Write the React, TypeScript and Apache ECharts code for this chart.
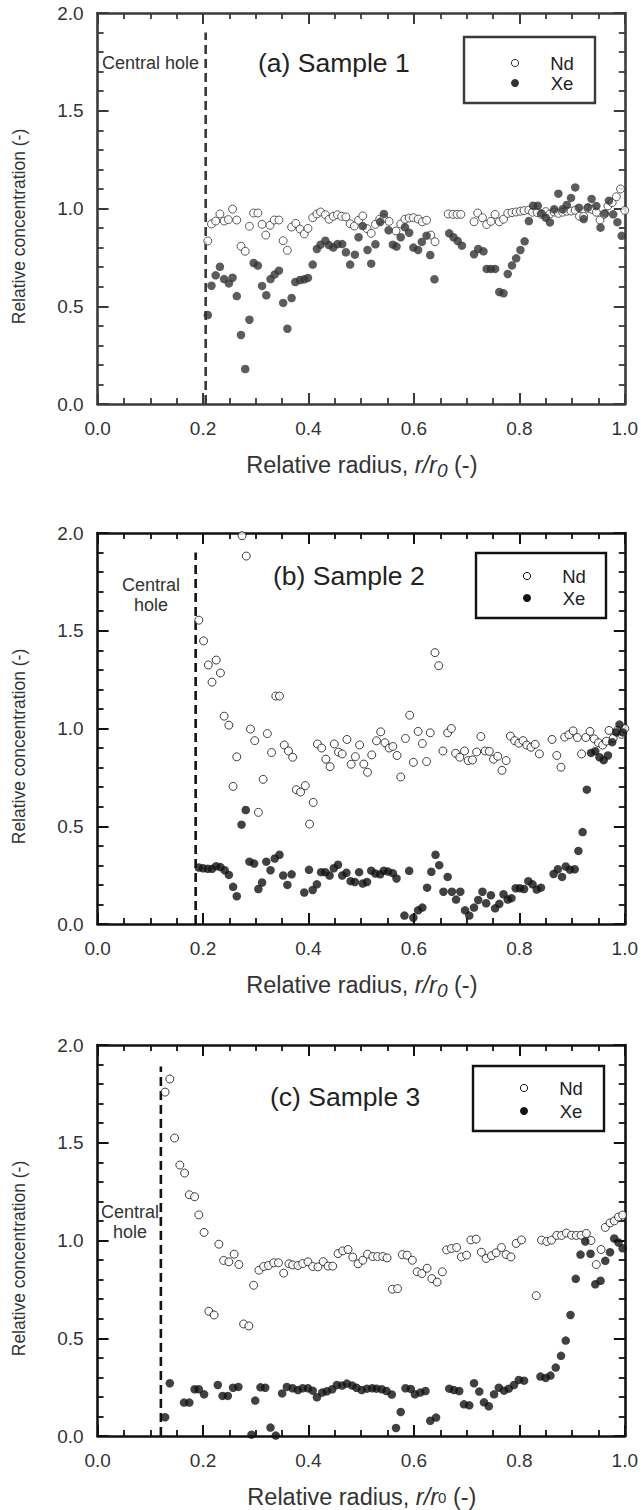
import React, { useEffect, useRef } from "react";
import * as echarts from "echarts";

// ---------- data ----------
const xTickStep = 0.2;
const yTickStep = 0.5;
const panelLabels = ["(a) Sample 1", "(b) Sample 2", "(c) Sample 3"];
const seriesNames = ["Nd", "Xe"];
const holeRadius = [0.205, 0.186, 0.12];
const holeTop = [1.9, 1.9, 1.89];

const ndA: number[][] = [
  [0.209,0.834],[0.216,0.921],[0.224,0.936],[0.232,0.972],[0.240,0.936],[0.248,0.943],[0.256,0.997],[0.264,0.941],[0.272,0.807],[0.280,0.781],
  [0.288,0.909],[0.296,0.977],[0.304,0.977],[0.312,0.919],[0.319,0.864],[0.327,0.914],[0.335,0.941],[0.344,0.941],[0.352,0.835],[0.360,0.786],
  [0.368,0.905],[0.376,0.924],[0.384,0.895],[0.392,0.870],[0.399,0.898],[0.408,0.953],[0.416,0.972],[0.423,0.982],[0.432,0.968],[0.439,0.945],
  [0.447,0.960],[0.455,0.968],[0.463,0.960],[0.471,0.957],[0.479,0.922],[0.487,0.910],[0.495,0.940],[0.503,0.962],[0.511,0.897],[0.519,0.873],
  [0.527,0.919],[0.535,0.945],[0.543,0.950],[0.553,0.934],[0.566,0.885],[0.575,0.921],[0.583,0.945],[0.591,0.951],[0.599,0.953],[0.608,0.946],
  [0.616,0.932],[0.624,0.940],[0.632,0.864],[0.640,0.830],[0.665,0.972],[0.674,0.970],[0.682,0.970],[0.689,0.970],[0.714,0.932],[0.721,0.977],
  [0.730,0.953],[0.738,0.918],[0.746,0.934],[0.754,0.970],[0.762,0.932],[0.770,0.945],[0.778,0.975],[0.786,0.979],[0.794,0.982],[0.802,0.986],
  [0.809,0.989],[0.818,0.992],[0.825,0.981],[0.834,0.979],[0.842,0.970],[0.850,0.984],[0.858,0.972],[0.866,0.982],[0.874,0.975],[0.882,0.981],
  [0.890,0.986],[0.898,0.987],[0.906,0.991],[0.914,0.960],[0.922,0.960],[0.930,1.001],[0.937,0.996],[0.946,0.981],[0.953,0.941],[0.961,0.970],
  [0.968,1.013],[0.976,1.03],[0.984,1.06],[0.992,1.10],[1.0,0.99]
];
const xeA: number[][] = [
  [0.209,0.455],[0.216,0.605],[0.224,0.658],[0.232,0.702],[0.240,0.639],[0.249,0.617],[0.256,0.646],[0.264,0.552],[0.272,0.353],[0.280,0.179],
  [0.288,0.431],[0.296,0.721],[0.304,0.708],[0.312,0.604],[0.320,0.556],[0.328,0.639],[0.336,0.663],[0.344,0.682],[0.352,0.517],[0.360,0.385],
  [0.368,0.542],[0.375,0.624],[0.384,0.634],[0.392,0.638],[0.399,0.645],[0.408,0.713],[0.416,0.793],[0.423,0.815],[0.432,0.835],[0.439,0.813],
  [0.447,0.800],[0.455,0.818],[0.464,0.818],[0.471,0.776],[0.479,0.713],[0.488,0.764],[0.495,0.853],[0.503,0.910],[0.512,0.788],[0.519,0.718],
  [0.527,0.817],[0.536,0.931],[0.543,0.972],[0.552,0.889],[0.560,0.815],[0.567,0.805],[0.575,0.853],[0.583,0.904],[0.591,0.876],[0.599,0.800],
  [0.608,0.788],[0.615,0.829],[0.624,0.861],[0.631,0.762],[0.639,0.638],[0.667,0.873],[0.675,0.853],[0.683,0.834],[0.691,0.810],[0.714,0.766],
  [0.722,0.793],[0.732,0.781],[0.738,0.691],[0.746,0.691],[0.754,0.691],[0.762,0.573],[0.770,0.566],[0.778,0.665],[0.786,0.709],[0.794,0.745],
  [0.802,0.788],[0.810,0.832],[0.818,0.936],[0.826,1.014],[0.835,1.014],[0.842,0.975],[0.850,0.953],[0.858,0.929],[0.866,0.996],[0.874,1.076],
  [0.882,0.996],[0.890,1.018],[0.898,1.054],[0.906,1.108],[0.913,1.004],[0.922,0.946],[0.930,1.006],[0.937,1.049],[0.946,1.013],[0.954,0.902],
  [0.962,0.975],[0.970,1.04],[0.978,0.97],[0.986,0.93],[0.994,0.86]
];
const ndB: number[][] = [
  [0.192,1.554],[0.201,1.448],[0.210,1.325],[0.217,1.237],[0.225,1.350],[0.233,1.284],[0.240,1.063],[0.249,1.017],[0.257,0.704],[0.264,0.855],
  [0.274,1.986],[0.282,1.882],[0.290,0.997],[0.298,0.938],[0.305,0.571],[0.314,0.740],[0.322,0.974],[0.330,0.877],[0.338,1.166],[0.345,1.166],
  [0.354,0.916],[0.362,0.885],[0.370,0.853],[0.377,0.687],[0.385,0.675],[0.394,0.708],[0.402,0.511],[0.409,0.622],[0.417,0.921],[0.425,0.900],
  [0.433,0.843],[0.441,0.805],[0.449,0.921],[0.457,0.879],[0.464,0.870],[0.473,0.944],[0.481,0.817],[0.489,0.856],[0.497,0.916],[0.505,0.818],
  [0.512,0.776],[0.520,0.865],[0.529,0.937],[0.537,0.983],[0.545,0.927],[0.553,0.900],[0.560,0.908],[0.568,0.862],[0.575,0.752],[0.584,0.949],
  [0.592,1.068],[0.599,0.827],[0.608,0.985],[0.616,0.923],[0.624,0.831],[0.631,0.978],[0.640,1.388],[0.647,1.321],[0.655,0.885],[0.664,0.978],
  [0.671,1.000],[0.679,0.873],[0.687,0.853],[0.696,0.885],[0.703,0.836],[0.711,0.839],[0.719,0.880],[0.727,0.959],[0.735,0.885],[0.743,0.883],
  [0.751,0.843],[0.759,0.858],[0.767,0.786],[0.775,0.836],[0.783,0.961],[0.791,0.938],[0.799,0.925],[0.807,0.938],[0.814,0.915],[0.822,0.904],
  [0.830,0.919],[0.838,0.870],[0.862,0.944],[0.871,0.862],[0.879,0.802],[0.886,0.956],[0.894,0.968],[0.902,0.988],[0.910,0.954],[0.918,0.870],
  [0.926,0.954],[0.934,0.985],[0.942,0.947],[0.950,0.927],[0.958,0.915],[0.965,0.935],[0.970,0.990],[0.978,0.95],[0.986,0.99],[0.994,0.97],
  [1.0,1.0]
];
const xeB: number[][] = [
  [0.192,0.289],[0.200,0.285],[0.209,0.282],[0.217,0.282],[0.225,0.296],[0.233,0.291],[0.241,0.275],[0.249,0.251],[0.257,0.190],[0.264,0.142],
  [0.273,0.508],[0.281,0.583],[0.288,0.319],[0.297,0.309],[0.305,0.179],[0.312,0.212],[0.320,0.319],[0.328,0.275],[0.336,0.335],[0.345,0.354],
  [0.352,0.248],[0.360,0.200],[0.368,0.254],[0.392,0.161],[0.401,0.277],[0.408,0.174],[0.416,0.203],[0.424,0.265],[0.432,0.265],[0.440,0.248],
  [0.448,0.285],[0.456,0.303],[0.464,0.248],[0.472,0.262],[0.480,0.219],[0.488,0.215],[0.496,0.265],[0.503,0.207],[0.511,0.215],[0.519,0.273],
  [0.527,0.258],[0.536,0.254],[0.543,0.273],[0.551,0.268],[0.560,0.260],[0.567,0.233],[0.582,0.043],[0.591,0.272],[0.599,0.032],[0.608,0.070],
  [0.616,0.084],[0.625,0.186],[0.633,0.267],[0.641,0.354],[0.648,0.301],[0.656,0.165],[0.664,0.241],[0.672,0.165],[0.680,0.125],[0.688,0.165],
  [0.697,0.070],[0.705,0.043],[0.714,0.084],[0.722,0.123],[0.730,0.165],[0.737,0.106],[0.746,0.147],[0.754,0.080],[0.762,0.103],[0.770,0.152],
  [0.778,0.125],[0.785,0.132],[0.793,0.183],[0.801,0.183],[0.809,0.179],[0.817,0.219],[0.825,0.203],[0.833,0.176],[0.841,0.186],[0.865,0.256],
  [0.873,0.280],[0.881,0.241],[0.888,0.294],[0.896,0.278],[0.905,0.280],[0.912,0.374],[0.920,0.470],[0.928,0.687],[0.936,0.875],[0.944,0.884],
  [0.952,0.853],[0.960,0.838],[0.968,0.862],[0.976,0.93],[0.984,0.98],[0.990,1.02],[0.996,0.98]
];
const ndC: number[][] = [
  [0.128,1.759],[0.137,1.826],[0.146,1.524],[0.156,1.386],[0.165,1.345],[0.174,1.234],[0.184,1.224],[0.192,1.131],[0.202,1.041],[0.211,0.638],
  [0.221,0.619],[0.230,0.981],[0.239,0.898],[0.249,0.891],[0.259,0.930],[0.268,0.877],[0.277,0.573],[0.287,0.563],[0.296,0.771],[0.306,0.848],
  [0.315,0.867],[0.324,0.872],[0.334,0.886],[0.343,0.886],[0.353,0.833],[0.363,0.881],[0.370,0.875],[0.380,0.872],[0.389,0.882],[0.399,0.891],
  [0.408,0.867],[0.418,0.865],[0.428,0.892],[0.437,0.869],[0.446,0.869],[0.456,0.933],[0.465,0.947],[0.475,0.954],[0.484,0.915],[0.494,0.881],
  [0.503,0.899],[0.512,0.930],[0.522,0.918],[0.531,0.918],[0.541,0.918],[0.549,0.911],[0.559,0.751],[0.569,0.754],[0.578,0.928],[0.587,0.925],
  [0.597,0.899],[0.606,0.840],[0.615,0.831],[0.625,0.858],[0.634,0.805],[0.644,0.787],[0.654,0.840],[0.662,0.952],[0.671,0.959],[0.681,0.964],
  [0.690,0.916],[0.700,0.925],[0.708,1.003],[0.718,1.007],[0.728,0.940],[0.737,0.908],[0.747,0.922],[0.756,0.937],[0.766,0.964],[0.775,0.928],
  [0.784,0.916],[0.794,0.985],[0.804,1.003],[0.832,0.718],[0.842,1.002],[0.852,0.995],[0.861,1.002],[0.871,1.026],[0.880,1.026],[0.889,1.038],
  [0.899,1.027],[0.908,1.026],[0.917,1.027],[0.927,1.036],[0.936,1.000],[0.946,0.877],[0.955,0.954],[0.963,1.067],[0.972,1.09],[0.980,1.10],
  [0.988,1.12],[0.996,1.13]
];
const xeC: number[][] = [
  [0.128,0.096],[0.137,0.270],[0.164,0.171],[0.174,0.171],[0.184,0.239],[0.192,0.239],[0.202,0.213],[0.228,0.261],[0.237,0.205],[0.247,0.205],
  [0.257,0.247],[0.267,0.251],[0.292,0.007],[0.299,0.181],[0.309,0.249],[0.318,0.247],[0.328,0.043],[0.338,0.002],[0.350,0.218],[0.359,0.251],
  [0.370,0.244],[0.380,0.235],[0.389,0.244],[0.399,0.244],[0.408,0.232],[0.416,0.198],[0.426,0.222],[0.435,0.229],[0.445,0.239],[0.454,0.261],
  [0.464,0.258],[0.473,0.268],[0.483,0.258],[0.491,0.247],[0.501,0.235],[0.511,0.242],[0.521,0.244],[0.529,0.242],[0.539,0.239],[0.548,0.230],
  [0.558,0.212],[0.566,0.041],[0.575,0.123],[0.584,0.244],[0.594,0.241],[0.602,0.213],[0.612,0.222],[0.622,0.230],[0.631,0.078],[0.642,0.094],
  [0.667,0.242],[0.676,0.235],[0.686,0.230],[0.695,0.162],[0.705,0.157],[0.714,0.270],[0.724,0.227],[0.733,0.172],[0.742,0.152],[0.752,0.213],
  [0.761,0.247],[0.771,0.232],[0.780,0.242],[0.790,0.261],[0.799,0.287],[0.809,0.283],[0.840,0.304],[0.850,0.297],[0.859,0.309],[0.869,0.350],
  [0.879,0.410],[0.888,0.488],[0.897,0.619],[0.907,0.804],[0.916,0.928],[0.925,0.995],[0.935,0.932],[0.944,0.776],[0.954,0.794],[0.963,0.896],
  [0.972,0.94],[0.980,1.01],[0.988,0.99],[0.996,0.96]
];

const ndSets = [ndA, ndB, ndC];
const xeSets = [xeA, xeB, xeC];

// ---------- layout ----------
const FONT = "'Liberation Sans', Arial, Helvetica, sans-serif";
const W = 641;
const H = 1510;
const gridLeft = 97.6;
const gridWidth = 528.5;
const gridTops = [13, 533, 1045];
const gridHeight = 391;
const frameColors = ["#3a3a3a", "#111", "#111"];
const markColors = ["#333", "#111", "#111"];
const legendBoxes = [
  { x: 464, y: 37, w: 131, h: 66, row1: 63, row2: 83 },
  { x: 476, y: 553, w: 130, h: 65, row1: 576, row2: 598 },
  { x: 473, y: 1066, w: 131, h: 65, row1: 1088, row2: 1111 },
];
const sampleLabelPos = [
  { x: 258, y: 63 },
  { x: 273, y: 576 },
  { x: 270, y: 1097 },
];
const holeLabels = [
  { text: "Central hole", x: 102, y: 63, align: "left" },
  { text: "Central\nhole", x: 151, y: 595, align: "center" },
  { text: "Central\nhole", x: 130, y: 1222, align: "center" },
];

function buildOption() {
  const grid: any[] = [];
  const xAxis: any[] = [];
  const yAxis: any[] = [];
  const series: any[] = [];
  const graphic: any[] = [];

  for (let i = 0; i < 3; i++) {
    const fc = frameColors[i];
    const mc = markColors[i];
    grid.push({ left: gridLeft, top: gridTops[i], width: gridWidth, height: gridHeight });
    const common = {
      type: "value",
      gridIndex: i,
      axisLine: { show: true, onZero: false, lineStyle: { color: fc, width: 2.6 } },
      axisTick: { show: true, inside: true, length: 11, lineStyle: { color: fc, width: 2 } },
      minorTick: { show: true, length: 6, lineStyle: { color: fc, width: 1.8 } },
      splitLine: { show: false },
      minorSplitLine: { show: false },
    };
    const label = {
      fontSize: 19,
      color: "#333",
      fontFamily: FONT,
      formatter: (v: number) => v.toFixed(1),
    };
    xAxis.push({ ...common, min: 0, max: 1, interval: xTickStep, position: "bottom",
      minorTick: { ...common.minorTick, splitNumber: 4 },
      axisLabel: { ...label, margin: 15 } });
    xAxis.push({ ...common, min: 0, max: 1, interval: xTickStep, position: "top",
      minorTick: { ...common.minorTick, splitNumber: 4 },
      axisLabel: { show: false } });
    yAxis.push({ ...common, min: 0, max: 2, interval: yTickStep, position: "left",
      minorTick: { ...common.minorTick, splitNumber: 5 },
      axisLabel: { ...label, margin: 14 } });
    yAxis.push({ ...common, min: 0, max: 2, interval: yTickStep, position: "right",
      minorTick: { ...common.minorTick, splitNumber: 5 },
      axisLabel: { show: false } });

    series.push({
      type: "line",
      name: "hole" + i,
      xAxisIndex: 2 * i,
      yAxisIndex: 2 * i,
      data: [[holeRadius[i], 0], [holeRadius[i], holeTop[i]]],
      showSymbol: false,
      symbol: "none",
      lineStyle: { color: fc, width: 2.6, type: [9, 5] },
      silent: true,
      z: 1,
    });
    series.push({
      type: "scatter",
      name: seriesNames[0],
      xAxisIndex: 2 * i,
      yAxisIndex: 2 * i,
      data: ndSets[i],
      symbol: "circle",
      symbolSize: 8,
      itemStyle: { color: "#fff", borderColor: mc, borderWidth: 1 },
      z: 3,
    });
    series.push({
      type: "scatter",
      name: seriesNames[1],
      xAxisIndex: 2 * i,
      yAxisIndex: 2 * i,
      data: xeSets[i],
      symbol: "circle",
      symbolSize: 8.5,
      itemStyle: { color: mc, borderColor: mc, borderWidth: 0 },
      z: 4,
    });

    // y axis title
    const cy = gridTops[i] + gridHeight / 2 + 18;
    graphic.push({
      type: "text",
      x: 19,
      y: cy,
      rotation: Math.PI / 2,
      style: {
        text: "Relative concentration (-)",
        fontSize: 17.5,
        fontFamily: FONT,
        fill: "#333",
        align: "center",
        verticalAlign: "middle",
      },
    });
    // x axis title
    const xt = i < 2
      ? "{n|Relative radius, }{i|r/r}{s|0}{n| (-)}"
      : "{n|Relative radius, }{i|r/r}{u|0}{n| (-)}";
    graphic.push({
      type: "text",
      x: gridLeft + gridWidth / 2,
      y: gridTops[i] + gridHeight + 61,
      style: {
        text: xt,
        align: "center",
        verticalAlign: "middle",
        fill: "#333",
        rich: {
          n: { fontSize: 23.5, fontFamily: FONT, fill: "#333", lineHeight: 30 },
          i: { fontSize: 23.5, fontFamily: FONT, fontStyle: "italic", fill: "#333", lineHeight: 30 },
          s: { fontSize: 19, fontFamily: FONT, fontStyle: "italic", fill: "#333", lineHeight: 2, verticalAlign: "bottom" },
          u: { fontSize: 15, fontFamily: FONT, fill: "#333", lineHeight: 30 },
        },
      },
    });
    // panel label
    graphic.push({
      type: "text",
      x: sampleLabelPos[i].x,
      y: sampleLabelPos[i].y,
      style: {
        text: panelLabels[i],
        fontSize: 26.5,
        fontFamily: FONT,
        fill: "#222",
        align: "left",
        verticalAlign: "middle",
      },
    });
    // central hole label
    const hl = holeLabels[i];
    graphic.push({
      type: "text",
      x: hl.x,
      y: hl.y,
      style: {
        text: hl.text,
        fontSize: 18,
        lineHeight: 20,
        fontFamily: FONT,
        fill: "#333",
        align: hl.align,
        verticalAlign: "middle",
      },
    });
    // legend
    const lb = legendBoxes[i];
    const mx = lb.x + 51;
    const tx = lb.x + 98;
    graphic.push({
      type: "rect",
      shape: { x: lb.x, y: lb.y, width: lb.w, height: lb.h },
      style: { fill: "#fff", stroke: fc, lineWidth: 2.4 },
      z: 10,
    });
    graphic.push({
      type: "circle",
      shape: { cx: mx, cy: lb.row1, r: 3.6 },
      style: { fill: "#fff", stroke: mc, lineWidth: 1 },
      z: 11,
    });
    graphic.push({
      type: "circle",
      shape: { cx: mx, cy: lb.row2, r: 4 },
      style: { fill: mc },
      z: 11,
    });
    graphic.push({
      type: "text",
      x: tx,
      y: lb.row1,
      style: { text: seriesNames[0], fontSize: 18.5, fontFamily: FONT, fill: "#222", align: "center", verticalAlign: "middle" },
      z: 11,
    });
    graphic.push({
      type: "text",
      x: tx,
      y: lb.row2,
      style: { text: seriesNames[1], fontSize: 18.5, fontFamily: FONT, fill: "#222", align: "center", verticalAlign: "middle" },
      z: 11,
    });
  }

  return {
    animation: false,
    backgroundColor: "#fff",
    grid,
    xAxis,
    yAxis,
    series,
    graphic,
  };
}

export default function App() {
  const ref = useRef<HTMLDivElement>(null);
  useEffect(() => {
    if (!ref.current) return;
    const chart = echarts.init(ref.current, undefined, { renderer: "svg" });
    chart.setOption(buildOption() as any);
    return () => chart.dispose();
  }, []);
  return (
    <div
      ref={ref}
      style={{ position: "absolute", left: 0, top: 0, width: W, height: H }}
    />
  );
}
